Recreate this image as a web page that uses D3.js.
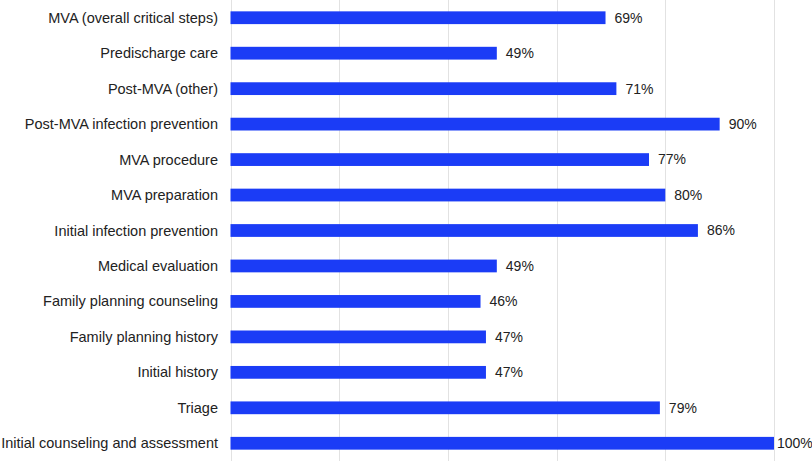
<!DOCTYPE html>
<html>
<head>
<meta charset="utf-8">
<script src="https://cdn.jsdelivr.net/npm/d3@7"></script>
<style>
  body { margin: 0; background: #fff; }
  svg { display: block; font-family: "Liberation Sans", Arial, sans-serif; }
</style>
</head>
<body>
<svg id="chart"></svg>
<script>
// categories top to bottom
const categories = [
  'MVA (overall critical steps)',
  'Predischarge care',
  'Post-MVA (other)',
  'Post-MVA infection prevention',
  'MVA procedure',
  'MVA preparation',
  'Initial infection prevention',
  'Medical evaluation',
  'Family planning counseling',
  'Family planning history',
  'Initial history',
  'Triage',
  'Initial counseling and assessment'
];
const values = [69, 49, 71, 90, 77, 80, 86, 49, 46, 47, 47, 79, 100];
const gridTicks = [0, 20, 40, 60, 80, 100];

const width = 812;
const height = 461;
const left = 230.5;
const right = 774;

const svg = d3.select('#chart').attr('width', width).attr('height', height);

const x = d3.scaleLinear().domain([0, 100]).range([left, right]);
const y = d3.scaleBand().domain(categories).range([0, height]).paddingInner(0.64).paddingOuter(0.32);

// gridlines
svg.append('g')
  .selectAll('line')
  .data(gridTicks)
  .enter()
  .append('line')
  .attr('x1', (d) => Math.round(x(d)) + 0.5)
  .attr('x2', (d) => Math.round(x(d)) + 0.5)
  .attr('y1', 0)
  .attr('y2', height)
  .attr('stroke', '#e2e2e2')
  .attr('stroke-width', 1);

const rows = categories.map((c, i) => ({ cat: c, val: values[i] }));

// bars
svg.append('g')
  .selectAll('rect')
  .data(rows)
  .enter()
  .append('rect')
  .attr('x', x(0))
  .attr('y', (d) => y(d.cat))
  .attr('width', (d) => x(d.val) - x(0))
  .attr('height', y.bandwidth())
  .attr('fill', '#1b3cf6');

// category labels
svg.append('g')
  .selectAll('text')
  .data(rows)
  .enter()
  .append('text')
  .attr('x', 218)
  .attr('y', (d) => y(d.cat) + y.bandwidth() / 2)
  .attr('dy', '0.35em')
  .attr('text-anchor', 'end')
  .attr('font-size', '14.5px')
  .attr('fill', '#222')
  .text((d) => d.cat);

// value labels
svg.append('g')
  .selectAll('text')
  .data(rows)
  .enter()
  .append('text')
  .attr('x', (d) => x(d.val) + (d.val >= 100 ? 3 : 9))
  .attr('y', (d) => y(d.cat) + y.bandwidth() / 2)
  .attr('dy', '0.35em')
  .attr('font-size', '14px')
  .attr('fill', '#222')
  .text((d) => d.val + '%');
</script>
</body>
</html>
